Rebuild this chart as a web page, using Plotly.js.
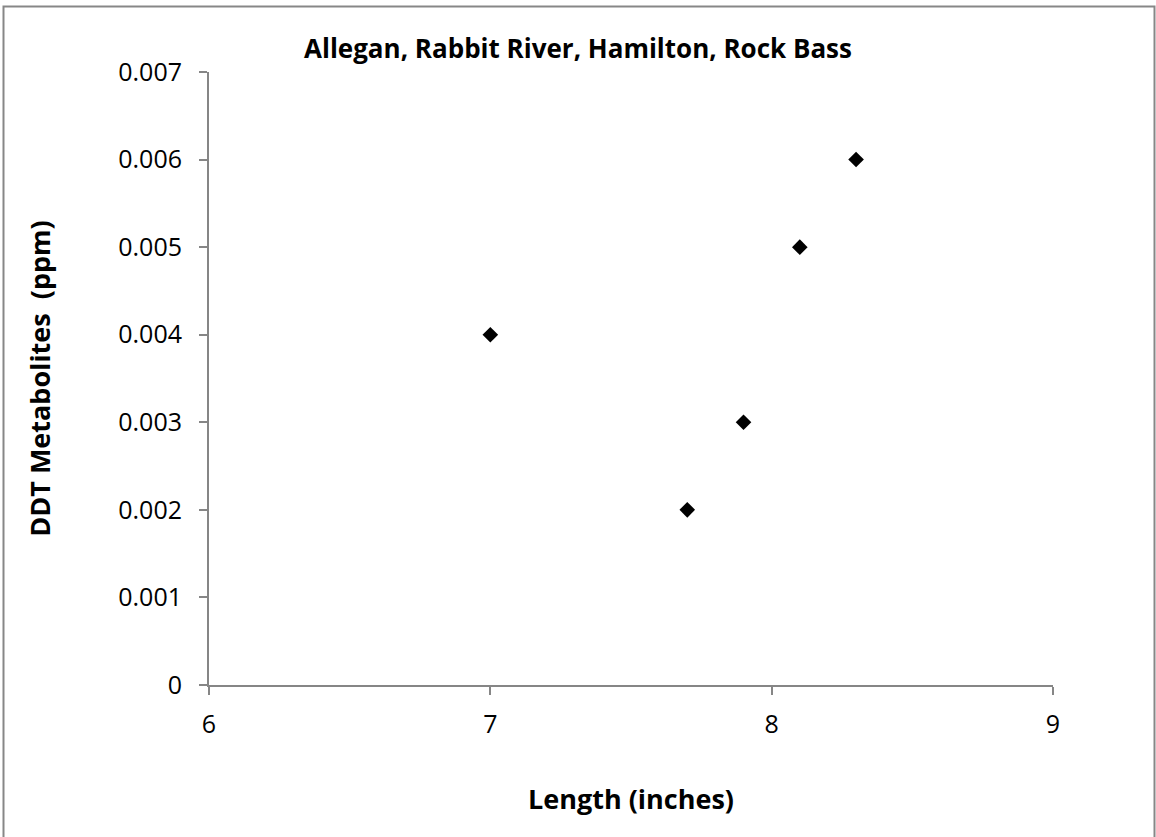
<!DOCTYPE html>
<html>
<head>
<meta charset="utf-8">
<script src="https://cdn.plot.ly/plotly-3.0.1.min.js"></script>
<style>
  html, body { margin: 0; padding: 0; background: #ffffff; }
  #chart { width: 1156px; height: 837px; }
</style>
</head>
<body>
<div id="chart"></div>
<script>
// Data
const lengthInches = [7.0, 7.7, 7.9, 8.1, 8.3];
const ddtPpm = [0.004, 0.002, 0.003, 0.005, 0.006];

const chartTitle = "Allegan, Rabbit River, Hamilton, Rock Bass";
const xTitle = "Length (inches)";
const yTitle = "DDT Metabolites  (ppm)";

const W = 1156, H = 837;
const M = { l: 209, r: 103, t: 72, b: 152 };
const pw = W - M.l - M.r, ph = H - M.t - M.b;
const px = v => (v - M.l) / pw;        // pixel x -> paper x
const py = v => (H - M.b - v) / ph;    // pixel y -> paper y

const axisColor = "#868686";
const fontFamily = "'Open Sans', 'Liberation Sans', sans-serif";

const trace = {
  type: "scatter",
  mode: "markers",
  x: lengthInches,
  y: ddtPpm,
  marker: { symbol: "diamond", size: 12, color: "#000000", line: { width: 0 } },
  hoverinfo: "x+y",
  showlegend: false
};

const layout = {
  width: W,
  height: H,
  margin: M,
  paper_bgcolor: "#ffffff",
  plot_bgcolor: "#ffffff",
  font: { family: fontFamily, size: 25, color: "#000000" },
  title: {
    text: "<b>" + chartTitle + "</b>",
    font: { family: fontFamily, size: 26, color: "#000000" },
    x: 0.5, xref: "container", xanchor: "center",
    y: 1 - 49 / H, yref: "container", yanchor: "middle"
  },
  xaxis: {
    range: [6, 9],
    tick0: 6, dtick: 1,
    showgrid: false, zeroline: false,
    showline: true, linecolor: axisColor, linewidth: 2,
    ticks: "outside", ticklen: 8, tickwidth: 2, tickcolor: axisColor,
    ticklabelstandoff: 8,
    tickfont: { family: fontFamily, size: 25, color: "#000000" },
    title: {
      text: "<b>" + xTitle + "</b>",
      font: { family: fontFamily, size: 27, color: "#000000" },
      standoff: 51
    },
    fixedrange: true
  },
  yaxis: {
    range: [0, 0.007],
    tick0: 0, dtick: 0.001,
    showgrid: false, zeroline: false,
    showline: true, linecolor: axisColor, linewidth: 2,
    ticks: "outside", ticklen: 8, tickwidth: 2, tickcolor: axisColor,
    ticklabelstandoff: 12,
    tickfont: { family: fontFamily, size: 25, color: "#000000" },
    title: {
      text: "<b>" + yTitle + "</b>",
      font: { family: fontFamily, size: 27, color: "#000000" },
      standoff: 60
    },
    fixedrange: true
  },
  shapes: [
    {
      type: "rect", xref: "paper", yref: "paper",
      x0: px(3.5), x1: px(1154.5), y0: py(845), y1: py(6.5),
      line: { color: "#878787", width: 2 },
      fillcolor: "rgba(0,0,0,0)",
      layer: "below"
    }
  ]
};

Plotly.newPlot("chart", [trace], layout, { displayModeBar: false });
</script>
</body>
</html>
